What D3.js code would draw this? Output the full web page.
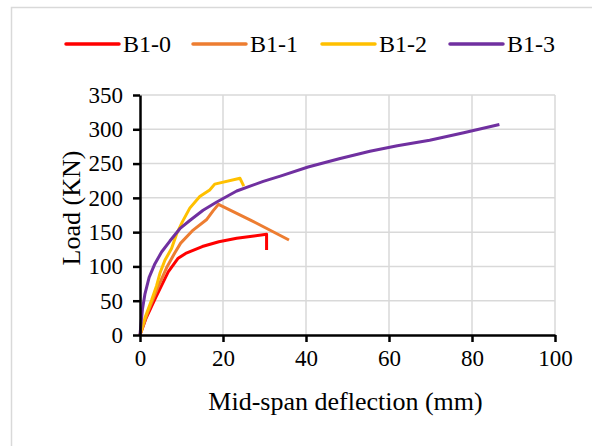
<!DOCTYPE html>
<html>
<head>
<meta charset="utf-8">
<script src="https://cdn.jsdelivr.net/npm/d3@7"></script>
<style>
  body { margin: 0; background: #fff; }
  svg text { font-family: "Liberation Serif", "Times New Roman", serif; fill: #000; }
</style>
</head>
<body>
<div id="chart"></div>
<script>
// Load vs mid-span deflection, one array per beam
let seriesNames = ["B1-0", "B1-1", "B1-2", "B1-3"];
let seriesColors = ["#ff0000", "#ed7d31", "#ffc000", "#7030a0"];

let b10 = [[0, 0], [1.5, 25], [3.8, 55], [6.8, 92], [9.2, 112], [11, 119], [15, 129], [19, 136],
    [23.3, 141], [27, 144], [30.5, 147], [30.5, 124]];
let b11 = [[0, 0], [1.8, 32], [4.2, 68], [6.4, 98], [8.4, 120], [9.8, 134], [12.8, 153], [16, 168],
    [17.6, 181], [18.9, 190.5], [26.5, 168], [35.9, 138.5]];
let b12 = [[0, 0], [1.2, 25], [2.8, 51], [4, 72], [4.8, 90], [6, 109], [7.6, 126], [8.8, 147],
    [10.2, 165], [12, 185], [14.4, 202], [16.8, 211.5], [18, 220], [24.1, 228.5], [25, 217]];
let b13 = [[0, 0], [0.2, 14], [0.6, 38], [1.2, 60], [2.2, 84], [3.6, 104], [5.2, 121], [7.2, 137], [9.6, 155],
    [12, 167], [15.2, 182], [18.5, 194], [23.3, 210], [29.7, 224], [34, 232], [40.5, 245], [48, 257],
    [55.4, 268], [62, 276], [69.8, 284], [78, 295], [86.6, 307]];

let xTicks = [0, 20, 40, 60, 80, 100];
let yTicks = [0, 50, 100, 150, 200, 250, 300, 350];

let allSeries = [b10, b11, b12, b13];

let svgWidth = 592;
let svgHeight = 446;

let margin = { top: 95, right: 37, bottom: 111, left: 140 };
let chartWidth = svgWidth - margin.left - margin.right;
let chartHeight = svgHeight - margin.top - margin.bottom;

let svg = d3.select("#chart")
    .append("svg")
    .attr("width", svgWidth)
    .attr("height", svgHeight);

// chart area border
svg.append("rect")
    .attr("x", 11.5)
    .attr("y", 7.5)
    .attr("width", svgWidth + 20)
    .attr("height", svgHeight + 20)
    .attr("fill", "none")
    .attr("stroke", "#d9d9d9")
    .attr("stroke-width", 1.5);

let chartGroup = svg.append("g")
    .attr("transform", `translate(${margin.left}, ${margin.top})`);

let xScale = d3.scaleLinear().domain([0, 100]).range([0, chartWidth]);
let yScale = d3.scaleLinear().domain([0, 350]).range([chartHeight, 0]);

// gridlines
chartGroup.append("g")
    .selectAll("line")
    .data(yTicks.slice(1))
    .enter()
    .append("line")
    .attr("x1", 0)
    .attr("x2", chartWidth)
    .attr("y1", d => yScale(d))
    .attr("y2", d => yScale(d))
    .attr("stroke", "#d9d9d9")
    .attr("stroke-width", 1.5);

chartGroup.append("g")
    .selectAll("line")
    .data(xTicks.slice(1))
    .enter()
    .append("line")
    .attr("x1", d => xScale(d))
    .attr("x2", d => xScale(d))
    .attr("y1", 0)
    .attr("y2", chartHeight)
    .attr("stroke", "#d9d9d9")
    .attr("stroke-width", 1.5);

// data lines
let line = d3.line()
    .x(d => xScale(d[0]))
    .y(d => yScale(d[1]));

allSeries.forEach(function (data, i) {
    chartGroup.append("path")
        .datum(data)
        .attr("d", line)
        .attr("fill", "none")
        .attr("stroke", seriesColors[i])
        .attr("stroke-width", 3)
        .attr("stroke-linejoin", "round");
});

// axes
let bottomAxis = d3.axisBottom(xScale).tickValues(xTicks).tickSizeInner(7).tickSizeOuter(0).tickPadding(8);
let leftAxis = d3.axisLeft(yScale).tickValues(yTicks).tickSizeInner(7).tickSizeOuter(0).tickPadding(10);

let yAxis = chartGroup.append("g").call(leftAxis);
let xAxis = chartGroup.append("g")
    .attr("transform", `translate(0, ${chartHeight})`)
    .call(bottomAxis);

[xAxis, yAxis].forEach(function (ax) {
    ax.select(".domain").attr("stroke", "#000").attr("stroke-width", 2.5);
    ax.selectAll(".tick line").attr("stroke", "#000").attr("stroke-width", 2.5);
    ax.selectAll(".tick text")
        .attr("font-size", "23px")
        .attr("font-family", "Liberation Serif, Times New Roman, serif");
});

// axis titles
chartGroup.append("text")
    .attr("x", chartWidth / 2 - 2)
    .attr("y", chartHeight + 75)
    .attr("text-anchor", "middle")
    .attr("font-size", "26px")
    .text("Mid-span deflection (mm)");

chartGroup.append("text")
    .attr("transform", "rotate(-90)")
    .attr("x", -chartHeight / 2 + 7)
    .attr("y", -60)
    .attr("text-anchor", "middle")
    .attr("font-size", "26px")
    .text("Load (KN)");

// legend
let legendX = [66, 193, 322, 450];
let legend = svg.append("g");
seriesNames.forEach(function (name, i) {
    legend.append("line")
        .attr("x1", legendX[i])
        .attr("x2", legendX[i] + 53)
        .attr("y1", 44)
        .attr("y2", 44)
        .attr("stroke", seriesColors[i])
        .attr("stroke-width", 3.5)
        .attr("stroke-linecap", "round");
    legend.append("text")
        .attr("x", legendX[i] + 57)
        .attr("y", 52)
        .attr("font-size", "24px")
        .text(name);
});
</script>
</body>
</html>
